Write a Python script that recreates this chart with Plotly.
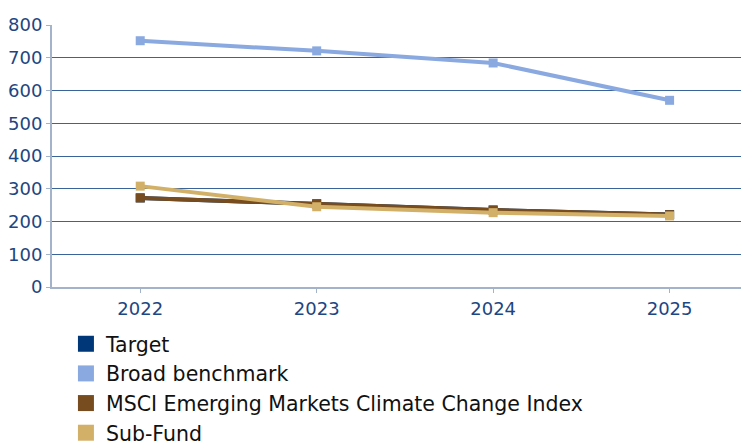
import plotly.graph_objects as go

years = ["2022", "2023", "2024", "2025"]
target = [272, 254, 235, 221]
broad = [752, 721, 684, 570]
msci = [272, 254, 235, 221]
subfund = [308, 245, 227, 217]

names = ["Target", "Broad benchmark", "MSCI Emerging Markets Climate Change Index", "Sub-Fund"]
colors = ["#003778", "#8aa9e0", "#774c1e", "#d3b068"]
series = [target, broad, msci, subfund]

fig = go.Figure()
for name, col, vals in zip(names, colors, series):
    fig.add_trace(go.Scatter(x=years, y=vals, mode="lines+markers", name=name,
                             line=dict(color=col, width=4),
                             marker=dict(symbol="square", size=9, color=col),
                             showlegend=False))
for i, (name, col) in enumerate(zip(names, colors)):
    fig.add_trace(go.Scatter(x=[None], y=[None], mode="markers", name=name,
                             marker=dict(symbol="square", size=16, color=col)))

tickfont = dict(family="DejaVu Sans", size=18, color="#1d4682")
fig.update_layout(
    width=741, height=433,
    margin=dict(l=44, r=0, t=17, b=154, autoexpand=False),
    paper_bgcolor="white", plot_bgcolor="white",
    font=dict(family="DejaVu Sans, sans-serif", color="#1d3f73", size=17),
    xaxis=dict(type="category", range=[-0.5, 3.45], showgrid=False,
               showline=True, linecolor="#a3b3cb", linewidth=2,
               ticks="outside", ticklen=4, tickcolor="#a3b3cb",
               tickfont=tickfont, automargin=False),
    yaxis=dict(range=[0, 800], dtick=100, showgrid=True, gridcolor="#3a6399", gridwidth=1,
               showline=True, linecolor="#a3b3cb", linewidth=2, zeroline=False,
               ticks="outside", ticklen=4, tickcolor="#a3b3cb",
               tickfont=tickfont, automargin=False),
    legend=dict(x=0.02, y=-0.141, xanchor="left", yanchor="top", orientation="v",
                font=dict(family="DejaVu Sans", size=20.5, color="#111111"),
                itemsizing="trace", bgcolor="rgba(0,0,0,0)"),
)
fig.write_html("out.html")
